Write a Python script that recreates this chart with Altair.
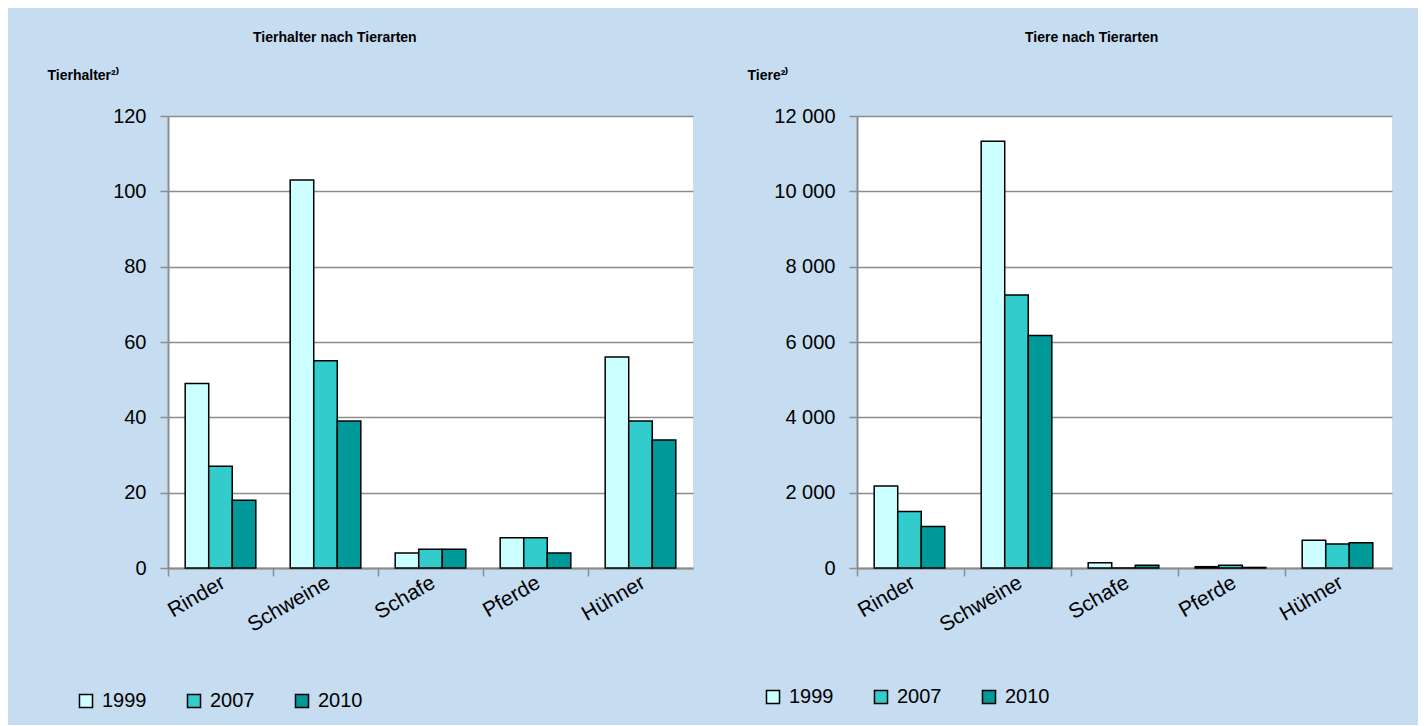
import altair as alt
import pandas as pd

tierarten = ["Rinder", "Schweine", "Schafe", "Pferde", "Hühner"]
jahre = ["1999", "2007", "2010"]
halter_1999 = [49, 103, 4, 8, 56]
halter_2007 = [27, 55, 5, 8, 39]
halter_2010 = [18, 39, 5, 4, 34]
tiere_1999 = [2180, 11330, 140, 35, 740]
tiere_2007 = [1500, 7250, 0, 70, 640]
tiere_2010 = [1100, 6170, 70, 15, 670]
farben = ["#CCFFFF", "#33CCCC", "#009999"]


def long(series):
    rows = []
    for jahr, vals in zip(jahre, series):
        for art, v in zip(tierarten, vals):
            rows.append({"Tierart": art, "Jahr": jahr, "Wert": v})
    return pd.DataFrame(rows)


GRAY = "#8C8C8C"
FONT = "Liberation Sans"
HEIGHT = 452


def panel(df, title, ytitle, ymax, ystep, width, title_dx, ytitle_x, legend_x, legend_y):
    yaxis = alt.Axis(
        values=list(range(0, ymax + 1, ystep)),
        title=ytitle, titleAngle=0, titleAlign="left", titleBaseline="middle",
        titleX=ytitle_x, titleY=-41, titleFont=FONT, titleFontSize=14,
        titleFontWeight="bold", titleColor="black",
        labelFont=FONT, labelFontSize=20, labelColor="black", labelPadding=14,
        labelExpr="replace(format(datum.value, ','), ',', ' ')",
        tickSize=8, tickColor=GRAY, tickWidth=1.5,
        domainColor=GRAY, domainWidth=2, gridColor=GRAY, gridWidth=1.5,
    )
    xaxis = alt.Axis(
        title=None, bandPosition=0, labelAngle=-30, labelOffset=3,
        labelAlign="right", labelBaseline="middle", labelFont=FONT,
        labelFontSize=21, labelColor="black", labelPadding=5,
        tickSize=8, tickColor=GRAY, tickWidth=1.5,
        domainColor=GRAY, domainWidth=2, grid=False,
    )
    legend = alt.Legend(
        orient="none", legendX=legend_x, legendY=legend_y, direction="horizontal",
        title=None, symbolType="square", symbolSize=170, symbolStrokeColor="black",
        symbolStrokeWidth=1.5, symbolOpacity=1, labelFont=FONT, labelFontSize=20,
        labelColor="black", labelOffset=6, columnPadding=37, padding=0,
    )
    return alt.Chart(df).mark_bar(stroke="black", strokeWidth=1.5).encode(
        x=alt.X("Tierart:N", sort=tierarten,
                scale=alt.Scale(paddingInner=0, paddingOuter=0), axis=xaxis),
        xOffset=alt.XOffset("Jahr:N", sort=jahre,
                            scale=alt.Scale(paddingInner=0, paddingOuter=0.73)),
        y=alt.Y("Wert:Q", scale=alt.Scale(domain=[0, ymax], nice=False), axis=yaxis),
        color=alt.Color("Jahr:N", sort=jahre,
                        scale=alt.Scale(domain=jahre, range=farben), legend=legend),
    ).properties(
        width=width, height=HEIGHT,
        title=alt.TitleParams(text=title, anchor="start", frame="group", dx=title_dx,
                              font=FONT, fontSize=14, fontWeight="bold",
                              color="black", offset=23),
    )


left = panel(long([halter_1999, halter_2007, halter_2010]),
             "Tierhalter nach Tierarten", "Tierhalter²⁾", 120, 20, 525,
             85, -121, -92, 575)
right = panel(long([tiere_1999, tiere_2007, tiere_2010]),
              "Tiere nach Tierarten", "Tiere²⁾", 12000, 2000, 535,
              168, -110, -94, 571)

chart = alt.hconcat(left, right, spacing=164, bounds="flush").resolve_scale(
    color="independent"
).resolve_legend(color="independent").configure(
    background="#C5DCF1",
    padding={"left": 39, "top": 23, "right": 26, "bottom": 14},
).configure_view(fill="white", strokeWidth=0)

chart.save("out.html", embed_options={"renderer": "svg", "actions": False})
